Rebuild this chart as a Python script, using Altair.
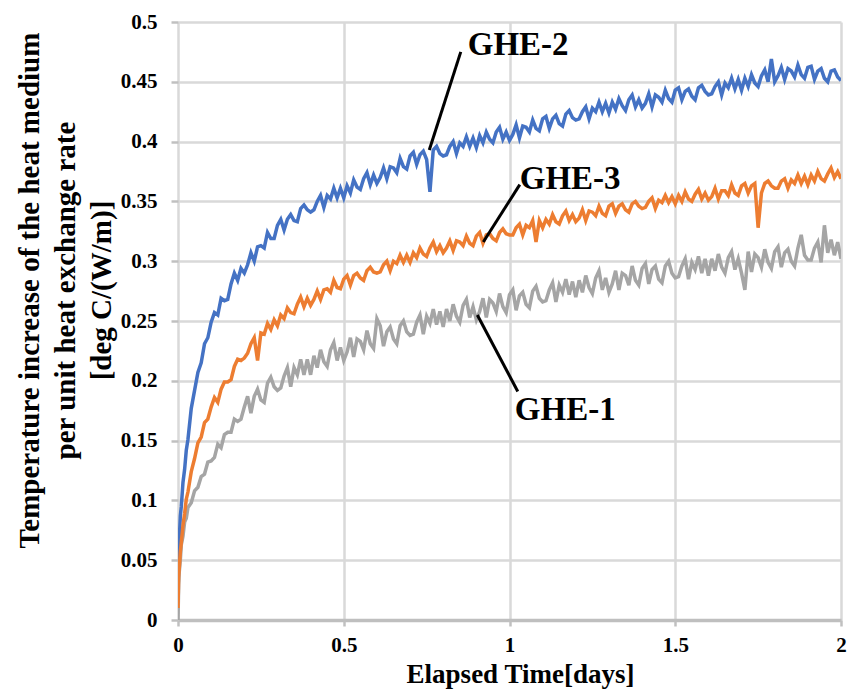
import altair as alt
import pandas as pd

# Elapsed time [days]
times = [
    0, 0.002, 0.004, 0.007, 0.01, 0.015, 0.02, 0.025, 0.03, 0.04, 0.05, 0.06, 0.07, 0.08, 0.09, 0.10,
    0.11, 0.12, 0.13, 0.14, 0.15, 0.16, 0.17, 0.18, 0.19, 0.20,
    0.21, 0.22, 0.23, 0.24, 0.25, 0.26, 0.27, 0.28, 0.29, 0.30,
    0.31, 0.32, 0.33, 0.34, 0.35, 0.36, 0.37, 0.38, 0.39, 0.40,
    0.41, 0.42, 0.43, 0.44, 0.45, 0.46, 0.47, 0.48, 0.49, 0.50,
    0.51, 0.52, 0.53, 0.54, 0.55, 0.56, 0.57, 0.58, 0.59, 0.60,
    0.61, 0.62, 0.63, 0.64, 0.65, 0.66, 0.67, 0.68, 0.69, 0.70,
    0.71, 0.72, 0.73, 0.74, 0.75, 0.76, 0.77, 0.78, 0.79, 0.80,
    0.81, 0.82, 0.83, 0.84, 0.85, 0.86, 0.87, 0.88, 0.89, 0.90,
    0.91, 0.92, 0.93, 0.94, 0.95, 0.96, 0.97, 0.98, 0.99, 1.00,
    1.01, 1.02, 1.03, 1.04, 1.05, 1.06, 1.07, 1.08, 1.09, 1.10,
    1.11, 1.12, 1.13, 1.14, 1.15, 1.16, 1.17, 1.18, 1.19, 1.20,
    1.21, 1.22, 1.23, 1.24, 1.25, 1.26, 1.27, 1.28, 1.29, 1.30,
    1.31, 1.32, 1.33, 1.34, 1.35, 1.36, 1.37, 1.38, 1.39, 1.40,
    1.41, 1.42, 1.43, 1.44, 1.45, 1.46, 1.47, 1.48, 1.49, 1.50,
    1.51, 1.52, 1.53, 1.54, 1.55, 1.56, 1.57, 1.58, 1.59, 1.60,
    1.61, 1.62, 1.63, 1.64, 1.65, 1.66, 1.67, 1.68, 1.69, 1.70,
    1.71, 1.72, 1.73, 1.74, 1.75, 1.76, 1.77, 1.78, 1.79, 1.80,
    1.81, 1.82, 1.83, 1.84, 1.85, 1.86, 1.87, 1.88, 1.89, 1.90,
    1.91, 1.92, 1.93, 1.94, 1.95, 1.96, 1.97, 1.98, 1.99, 2.00,
]

ghe2 = [
    0.035, 0.058, 0.068, 0.087, 0.095, 0.115, 0.126, 0.142, 0.151, 0.177, 0.192, 0.207, 0.215, 0.231, 0.236, 0.249,
    0.257, 0.255, 0.269, 0.267, 0.268, 0.281, 0.290, 0.284, 0.294, 0.290,
    0.297, 0.307, 0.300, 0.312, 0.313, 0.311, 0.324, 0.319, 0.319, 0.330,
    0.335, 0.326, 0.335, 0.339, 0.334, 0.333, 0.344, 0.347, 0.343, 0.341,
    0.343, 0.350, 0.355, 0.345, 0.355, 0.352, 0.361, 0.353, 0.361, 0.353,
    0.363, 0.357, 0.368, 0.362, 0.360, 0.369, 0.374, 0.364, 0.372, 0.365,
    0.370, 0.378, 0.369, 0.379, 0.378, 0.374, 0.386, 0.379, 0.377, 0.388,
    0.391, 0.381, 0.389, 0.392, 0.385, 0.358, 0.393, 0.396, 0.390, 0.388,
    0.389, 0.396, 0.400, 0.390, 0.399, 0.396, 0.404, 0.396, 0.403, 0.395,
    0.405, 0.399, 0.408, 0.402, 0.399, 0.408, 0.412, 0.402, 0.408, 0.401,
    0.406, 0.414, 0.403, 0.413, 0.412, 0.408, 0.418, 0.411, 0.409, 0.419,
    0.421, 0.411, 0.419, 0.422, 0.415, 0.413, 0.423, 0.426, 0.420, 0.418,
    0.419, 0.425, 0.429, 0.419, 0.428, 0.425, 0.433, 0.425, 0.432, 0.424,
    0.433, 0.427, 0.436, 0.430, 0.426, 0.435, 0.439, 0.429, 0.435, 0.428,
    0.432, 0.440, 0.429, 0.439, 0.437, 0.433, 0.443, 0.436, 0.433, 0.443,
    0.445, 0.435, 0.442, 0.444, 0.438, 0.435, 0.445, 0.447, 0.442, 0.439,
    0.440, 0.446, 0.450, 0.439, 0.449, 0.445, 0.453, 0.444, 0.452, 0.443,
    0.453, 0.446, 0.456, 0.449, 0.446, 0.455, 0.460, 0.450, 0.469, 0.450,
    0.455, 0.462, 0.452, 0.461, 0.459, 0.454, 0.464, 0.456, 0.453, 0.462,
    0.463, 0.452, 0.459, 0.461, 0.453, 0.450, 0.459, 0.460, 0.454, 0.451,
]

ghe3 = [
    0.010, 0.036, 0.044, 0.057, 0.065, 0.079, 0.089, 0.101, 0.107, 0.124, 0.135, 0.148, 0.153, 0.165, 0.168, 0.178,
    0.186, 0.182, 0.193, 0.199, 0.199, 0.201, 0.212, 0.218, 0.217, 0.219,
    0.223, 0.231, 0.236, 0.217, 0.240, 0.239, 0.248, 0.243, 0.251, 0.246,
    0.255, 0.252, 0.261, 0.257, 0.256, 0.264, 0.270, 0.262, 0.269, 0.263,
    0.268, 0.275, 0.268, 0.276, 0.277, 0.274, 0.284, 0.278, 0.277, 0.285,
    0.288, 0.280, 0.288, 0.290, 0.286, 0.284, 0.292, 0.295, 0.291, 0.290,
    0.291, 0.297, 0.300, 0.292, 0.300, 0.298, 0.305, 0.299, 0.305, 0.299,
    0.307, 0.303, 0.311, 0.306, 0.304, 0.311, 0.316, 0.308, 0.313, 0.307,
    0.311, 0.317, 0.309, 0.317, 0.316, 0.313, 0.321, 0.315, 0.313, 0.321,
    0.324, 0.315, 0.322, 0.323, 0.319, 0.317, 0.324, 0.327, 0.323, 0.322,
    0.322, 0.328, 0.331, 0.322, 0.330, 0.328, 0.334, 0.316, 0.334, 0.328,
    0.335, 0.331, 0.339, 0.333, 0.331, 0.338, 0.342, 0.334, 0.339, 0.333,
    0.336, 0.343, 0.334, 0.342, 0.341, 0.338, 0.346, 0.340, 0.338, 0.346,
    0.348, 0.340, 0.346, 0.348, 0.343, 0.341, 0.348, 0.350, 0.346, 0.344,
    0.345, 0.350, 0.353, 0.344, 0.351, 0.349, 0.355, 0.349, 0.354, 0.348,
    0.355, 0.350, 0.358, 0.352, 0.350, 0.356, 0.360, 0.352, 0.357, 0.351,
    0.354, 0.361, 0.352, 0.359, 0.359, 0.355, 0.364, 0.357, 0.355, 0.363,
    0.365, 0.357, 0.363, 0.365, 0.328, 0.357, 0.365, 0.367, 0.363, 0.361,
    0.361, 0.367, 0.369, 0.361, 0.368, 0.365, 0.372, 0.365, 0.371, 0.364,
    0.372, 0.367, 0.375, 0.369, 0.367, 0.373, 0.378, 0.370, 0.375, 0.369,
]

ghe1 = [
    0.000, 0.030, 0.041, 0.050, 0.063, 0.070, 0.082, 0.085, 0.094, 0.098, 0.108, 0.111, 0.120, 0.122, 0.132, 0.133,
    0.136, 0.147, 0.144, 0.155, 0.157, 0.157, 0.168, 0.166, 0.168, 0.178,
    0.187, 0.173, 0.187, 0.193, 0.184, 0.182, 0.198, 0.203, 0.195, 0.192,
    0.194, 0.204, 0.211, 0.195, 0.211, 0.205, 0.218, 0.205, 0.218, 0.205,
    0.221, 0.211, 0.226, 0.216, 0.212, 0.226, 0.232, 0.217, 0.228, 0.217,
    0.224, 0.236, 0.220, 0.235, 0.233, 0.226, 0.242, 0.231, 0.227, 0.252,
    0.246, 0.229, 0.241, 0.245, 0.235, 0.231, 0.246, 0.250, 0.241, 0.238,
    0.239, 0.249, 0.255, 0.239, 0.254, 0.248, 0.260, 0.247, 0.258, 0.245,
    0.260, 0.250, 0.264, 0.254, 0.249, 0.263, 0.268, 0.253, 0.262, 0.251,
    0.258, 0.269, 0.253, 0.268, 0.265, 0.258, 0.273, 0.262, 0.257, 0.272,
    0.276, 0.259, 0.271, 0.274, 0.264, 0.261, 0.275, 0.279, 0.269, 0.266,
    0.267, 0.276, 0.282, 0.266, 0.280, 0.274, 0.285, 0.272, 0.283, 0.270,
    0.284, 0.274, 0.288, 0.278, 0.273, 0.286, 0.292, 0.276, 0.286, 0.274,
    0.281, 0.292, 0.276, 0.290, 0.288, 0.280, 0.296, 0.284, 0.280, 0.294,
    0.298, 0.281, 0.293, 0.296, 0.285, 0.282, 0.296, 0.300, 0.290, 0.286,
    0.287, 0.296, 0.302, 0.285, 0.299, 0.293, 0.304, 0.290, 0.302, 0.288,
    0.302, 0.292, 0.306, 0.295, 0.290, 0.303, 0.308, 0.293, 0.302, 0.290,
    0.276, 0.308, 0.291, 0.306, 0.303, 0.295, 0.310, 0.299, 0.294, 0.308,
    0.312, 0.295, 0.307, 0.310, 0.300, 0.296, 0.311, 0.322, 0.305, 0.301,
    0.301, 0.311, 0.316, 0.299, 0.330, 0.307, 0.318, 0.305, 0.316, 0.302,
]

series_names = ["GHE-1", "GHE-2", "GHE-3"]
series_colors = ["#A5A5A5", "#4472C4", "#ED7D31"]

# Annotations (data coordinates)
ann_labels = ["GHE-2", "GHE-3", "GHE-1"]
ann_x = [0.874, 1.031, 1.016]
ann_y = [0.472, 0.360, 0.167]
lead_x1 = [0.853, 1.031, 0.903]
lead_y1 = [0.475, 0.364, 0.255]
lead_x2 = [0.758, 0.921, 1.025]
lead_y2 = [0.393, 0.316, 0.191]

x_ticks = [0, 0.5, 1, 1.5, 2]
y_ticks = [0, 0.05, 0.1, 0.15, 0.2, 0.25, 0.3, 0.35, 0.4, 0.45, 0.5]

rows = []
for name, vals in zip(series_names, [ghe1, ghe2, ghe3]):
    for t, v in zip(times, vals):
        rows.append({"t": t, "v": v, "s": name})
df = pd.DataFrame(rows)

ann_df = pd.DataFrame({"label": ann_labels, "x": ann_x, "y": ann_y})
lead_df = pd.DataFrame({"x": lead_x1, "y": lead_y1, "x2": lead_x2, "y2": lead_y2})

FONT = "Liberation Serif"

x_scale = alt.Scale(domain=[0, 2], nice=False)
y_scale = alt.Scale(domain=[0, 0.5], nice=False)

lines = alt.Chart(df).mark_line(strokeWidth=3.5, clip=True).encode(
    x=alt.X(
        "t:Q",
        scale=x_scale,
        axis=alt.Axis(
            values=x_ticks,
            format="~g",
            title="Elapsed Time[days]",
            titleFont=FONT,
            titleFontSize=27,
            titleFontWeight="bold",
            titleColor="#000000",
            titleX=342,
            titleY=62,
            titleBaseline="alphabetic",
            titleAlign="center",
            labelFont=FONT,
            labelFontSize=21,
            labelFontWeight="bold",
            labelColor="#000000",
            labelPadding=8,
            tickSize=6,
            tickColor="#c0c0c0",
            tickWidth=2.5,
            grid=True,
            gridColor="#d9d9d9",
            gridWidth=2.5,
            domainColor="#bfbfbf",
            domainWidth=3.5,
            labelFlush=False,
        ),
    ),
    y=alt.Y(
        "v:Q",
        scale=y_scale,
        axis=alt.Axis(
            values=y_ticks,
            format="~g",
            title=[
                "Temperature increase of the heat medium",
                "per unit heat exchange rate",
                "[deg C/(W/m)]",
            ],
            titleFont=FONT,
            titleFontSize=29,
            titleFontWeight="bold",
            titleColor="#000000",
            titleLineHeight=36,
            titleAngle=270,
            titleAlign="center",
            titleBaseline="alphabetic",
            titleX=-140,
            titleY=268,
            labelFont=FONT,
            labelFontSize=21,
            labelFontWeight="bold",
            labelColor="#000000",
            labelPadding=14,
            tickSize=7,
            tickColor="#c0c0c0",
            tickWidth=2.5,
            grid=True,
            gridColor="#d9d9d9",
            gridWidth=2.5,
            domain=False,
            labelFlush=False,
        ),
    ),
    color=alt.Color(
        "s:N",
        scale=alt.Scale(domain=series_names, range=series_colors),
        legend=None,
    ),
)

leaders = alt.Chart(lead_df).mark_rule(color="#000000", strokeWidth=3).encode(
    x=alt.X("x:Q", scale=x_scale),
    y=alt.Y("y:Q", scale=y_scale),
    x2="x2:Q",
    y2="y2:Q",
)

labels = alt.Chart(ann_df).mark_text(
    font=FONT,
    fontSize=33,
    fontWeight="bold",
    color="#000000",
    align="left",
    baseline="alphabetic",
).encode(
    x=alt.X("x:Q", scale=x_scale),
    y=alt.Y("y:Q", scale=y_scale),
    text="label:N",
)

chart = alt.layer(lines, leaders, labels).properties(
    width=663,
    height=598,
    autosize=alt.AutoSizeParams(type="none"),
    padding={"left": 170, "top": 14, "right": 7, "bottom": 70},
    background="#ffffff",
).configure(font=FONT).configure_view(stroke=None)

chart.save("out.html", embed_options={"renderer": "svg", "actions": False})
